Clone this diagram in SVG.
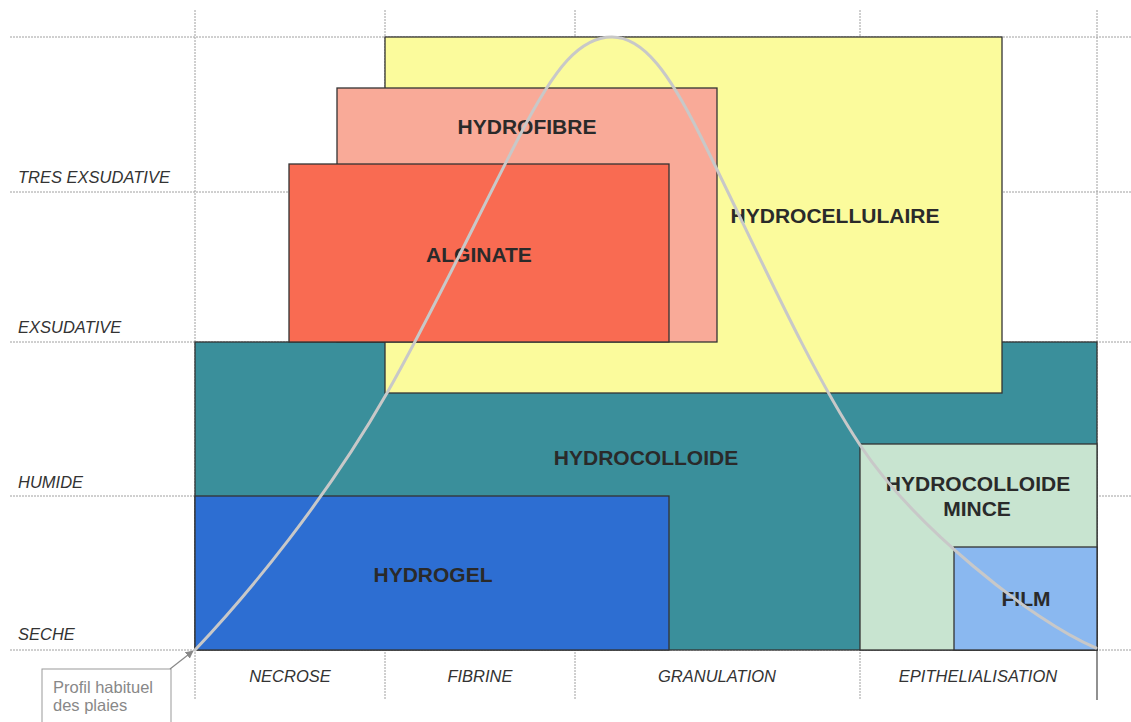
<svg xmlns="http://www.w3.org/2000/svg" width="1131" height="722" viewBox="0 0 1131 722">
<defs>
<style>
.grid{stroke:#a0a0a0;stroke-width:1;stroke-dasharray:2 1;fill:none}
.box{stroke:#333;stroke-width:1.3}
.lbl{font-family:"Liberation Sans",Arial,sans-serif;font-weight:bold;font-size:21px;fill:#2a2a2a;text-anchor:middle}
.ax{font-family:"Liberation Sans",Arial,sans-serif;font-style:italic;font-size:16.5px;fill:#333}
.axc{text-anchor:middle}
</style>
<marker id="ah" viewBox="0 0 10 10" refX="9" refY="5" markerWidth="8" markerHeight="8" orient="auto" markerUnits="userSpaceOnUse">
<path d="M0,0 L10,5 L0,10 z" fill="#888"/>
</marker>
</defs>
<rect width="1131" height="722" fill="#fff"/>
<g id="grid">
<line class="grid" x1="10" y1="37" x2="1131" y2="37"/>
<line class="grid" x1="10" y1="192" x2="1131" y2="192"/>
<line class="grid" x1="10" y1="342" x2="1131" y2="342"/>
<line class="grid" x1="10" y1="496" x2="1131" y2="496"/>
<line class="grid" x1="10" y1="650" x2="1131" y2="650"/>
<line class="grid" x1="195" y1="10" x2="195" y2="700"/>
<line class="grid" x1="385" y1="10" x2="385" y2="700"/>
<line class="grid" x1="575" y1="10" x2="575" y2="700"/>
<line class="grid" x1="860" y1="10" x2="860" y2="700"/>
<line class="grid" x1="1097" y1="10" x2="1097" y2="650"/>
<line x1="1097" y1="650" x2="1097" y2="700" stroke="#555" stroke-width="1.3"/>
</g>
<g id="hydrocolloide">
<rect class="box" x="195" y="342" width="902" height="308" fill="#3A8F9B"/>
<text class="lbl" x="646" y="465">HYDROCOLLOIDE</text>
</g>
<g id="hydrocellulaire">
<rect class="box" x="385" y="37" width="617" height="356" fill="#FBFB9C"/>
<text class="lbl" x="835" y="223">HYDROCELLULAIRE</text>
</g>
<g id="hydrofibre">
<rect class="box" x="337" y="88" width="380" height="254" fill="#F9AA98"/>
<text class="lbl" x="527" y="134">HYDROFIBRE</text>
</g>
<g id="alginate">
<rect class="box" x="289" y="164" width="380" height="178" fill="#F96B52"/>
<text class="lbl" x="479" y="262">ALGINATE</text>
</g>
<g id="hydrogel">
<rect class="box" x="195" y="496" width="474" height="154" fill="#2D6ED2"/>
<text class="lbl" x="433" y="582">HYDROGEL</text>
</g>
<g id="hydrocolloide-mince">
<rect class="box" x="860" y="444" width="237" height="206" fill="#C8E4D0"/>
<text class="lbl" x="978" y="491">HYDROCOLLOIDE</text>
<text class="lbl" x="977" y="516">MINCE</text>
</g>
<g id="film">
<rect class="box" x="954" y="547" width="143" height="103" fill="#8AB8F0"/>
<text class="lbl" x="1026" y="606">FILM</text>
</g>
<g id="axis-labels">
<text class="ax" x="18" y="183">TRES EXSUDATIVE</text>
<text class="ax" x="18" y="333">EXSUDATIVE</text>
<text class="ax" x="18" y="488">HUMIDE</text>
<text class="ax" x="18" y="640">SECHE</text>
<text class="ax axc" x="290" y="682">NECROSE</text>
<text class="ax axc" x="480" y="682">FIBRINE</text>
<text class="ax axc" x="717" y="682">GRANULATION</text>
<text class="ax axc" x="978" y="682">EPITHELIALISATION</text>
</g>
<g id="curve">
<path d="M195,650 C250,592 327,498 387,393 C431,316 476,220 520,135 C555,67 580,37 612,37 C644,37 670,75 700,135 C753,241 807,365 860,445 C913,525 1030,620 1096,648" fill="none" stroke="#C8C8C8" stroke-width="3" stroke-linecap="round"/>
</g>
<g id="profil-note">
<rect x="42" y="669" width="129" height="60" fill="#fff" stroke="#999" stroke-width="1"/>
<text x="53" y="693" font-family="Liberation Sans, Arial, sans-serif" font-size="16.5" fill="#888">Profil habituel</text>
<text x="53" y="711" font-family="Liberation Sans, Arial, sans-serif" font-size="16.5" fill="#888">des plaies</text>
</g>
<g id="connectors">
<line x1="170" y1="669" x2="193" y2="651" stroke="#888" stroke-width="1.2" marker-end="url(#ah)"/>
</g>
</svg>
